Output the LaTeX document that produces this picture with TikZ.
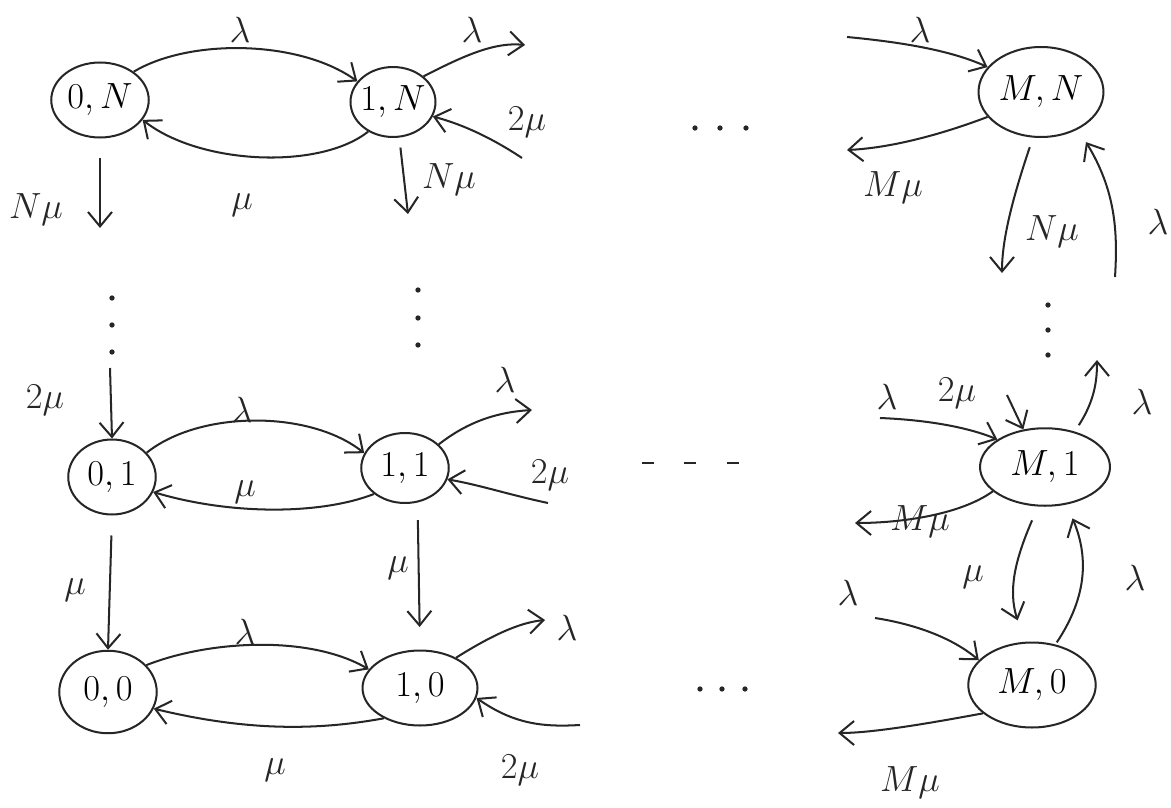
\documentclass[tikz,border=0pt]{standalone}
\usetikzlibrary{shapes.geometric,arrows.meta}
\begin{document}
\begin{tikzpicture}[x=0.02cm,y=-0.02cm,
  ink/.style={draw=black!85, line width=1.15pt},
  st/.style={ellipse, ink, inner xsep=-8pt, inner ysep=0pt, font=\huge},
  tr/.style={ink, -{Straight Barb[length=2.9mm,width=4.8mm]}},
  lab/.style={font=\huge, text=black!85},
  dotmark/.style={fill=black!85, circle, inner sep=0pt, minimum size=3pt}]
\useasboundingbox (0,0) rectangle (1171,808);
% states
\node[st, minimum width=1.95cm, minimum height=1.5cm] (a0N) at (100,100) {$0,N$};
\node[st, minimum width=1.7cm, minimum height=1.4cm] (a1N) at (393,102) {$1,N$};
\node[st, minimum width=2.5cm, minimum height=1.8cm] (aMN) at (1041,92) {$M,N$};
\node[st, minimum width=1.75cm, minimum height=1.5cm] (a01) at (112,477) {$0,1$};
\node[st, minimum width=1.75cm, minimum height=1.4cm] (a11) at (405,468) {$1,1$};
\node[st, minimum width=2.6cm, minimum height=1.55cm] (aM1) at (1045,467) {$M,1$};
\node[st, minimum width=1.95cm, minimum height=1.65cm] (a00) at (108,692) {$0,0$};
\node[st, minimum width=2.3cm, minimum height=1.5cm] (a10) at (420,688) {$1,0$};
\node[st, minimum width=2.55cm, minimum height=1.7cm] (aM0) at (1032,685) {$M,0$};
% free ends
\coordinate (c1Nr) at (525,45);
\coordinate (c1Nin) at (522,158);
\coordinate (c0Nd) at (100,228);
\coordinate (c1Nd) at (408,214);
\coordinate (cMNin) at (847,37);
\coordinate (cMNout) at (847,150);
\coordinate (cMNd) at (1002,273);
\coordinate (cMNu) at (1115,277);
\coordinate (c01in) at (110,368);
\coordinate (c11r) at (532,410);
\coordinate (c11in) at (548,503);
\coordinate (cM1in) at (880,418);
\coordinate (cM1top) at (1007,395);
\coordinate (cM1up) at (1097,360);
\coordinate (cM1out) at (855,523);
\coordinate (c10r) at (545,620);
\coordinate (c10in) at (580,725);
\coordinate (cM0in) at (875,618);
\coordinate (cM0out) at (838,733);
% top row
\draw[tr] (a0N.40) .. controls (190,38) and (300,40) .. (a1N.150);
\draw[tr] (a1N.-130) .. controls (320,170) and (200,165) .. (a0N.-25);
\draw[tr] (a1N.40) .. controls (465,55) and (495,42) .. (c1Nr);
\draw[tr] (c1Nin) .. controls (495,140) and (465,125) .. (a1N.-20);
\draw[tr, shorten <=0.4cm] (a0N.south) -- (c0Nd);
\draw[tr, shorten <=0.2cm] (a1N.-80) -- (c1Nd);
\draw[tr] (cMNin) .. controls (900,42) and (950,50) .. (aMN.155);
\draw[tr] (aMN.-155) .. controls (940,135) and (890,148) .. (cMNout);
\draw[tr, shorten <=0.2cm] (aMN.-100) .. controls (1012,200) and (1002,240) .. (cMNd);
\draw[tr, shorten >=0.3cm] (cMNu) .. controls (1118,230) and (1115,190) .. (aMN.-45);
% middle row
\draw[tr] (c01in) -- (a01.north);
\draw[tr] (a01.35) .. controls (200,410) and (310,410) .. (a11.160);
\draw[tr] (a11.-140) .. controls (320,515) and (230,515) .. (a01.-20);
\draw[tr] (a11.35) .. controls (470,420) and (500,412) .. (c11r);
\draw[tr] (c11in) .. controls (510,495) and (480,485) .. (a11.-15);
\draw[tr] (cM1in) .. controls (930,420) and (970,428) .. (aM1.150);
\draw[tr] (cM1top) -- (aM1.120);
\draw[tr, shorten <=0.15cm] (aM1.50) .. controls (1095,400) and (1097,380) .. (cM1up);
\draw[tr] (aM1.-155) .. controls (960,515) and (900,523) .. (cM1out);
% verticals to bottom row
\draw[tr, shorten <=0.4cm] (a01.south) -- (a00.north);
\draw[tr, shorten <=0.35cm, shorten >=0.45cm] (a11.-70) -- (a10.north);
\draw[tr, shorten <=0.3cm, shorten >=0.45cm] (aM1.-100) .. controls (1015,560) and (1008,590) .. (aM0.100);
\draw[tr, shorten <=0.05cm, shorten >=0.3cm] (aM0.60) .. controls (1085,600) and (1090,560) .. (aM1.-60);
% bottom row
\draw[tr] (a00.35) .. controls (210,640) and (310,635) .. (a10.160);
\draw[tr] (a10.-140) .. controls (320,730) and (250,732) .. (a00.-20);
\draw[tr] (a10.40) .. controls (500,630) and (525,622) .. (c10r);
\draw[tr] (c10in) .. controls (545,727) and (515,725) .. (a10.-10);
\draw[tr] (cM0in) .. controls (920,625) and (955,640) .. (aM0.155);
\draw[tr] (aM0.-150) .. controls (920,725) and (870,733) .. (cM0out);
% labels
\node[lab] (l1) at (240,30) {$\lambda$};
\node[lab] (l2) at (242,205) {$\mu$};
\node[lab] (l3) at (472,30) {$\lambda$};
\node[lab] (l4) at (527,122) {$2\mu$};
\node[lab] (l5) at (36,210) {$N\mu$};
\node[lab] (l6) at (449,180) {$N\mu$};
\node[lab] (l7) at (920,30) {$\lambda$};
\node[lab] (l8) at (893,188) {$M\mu$};
\node[lab] (l9) at (1052,232) {$N\mu$};
\node[lab] (l10) at (1158,222) {$\lambda$};
\node[lab] (l11) at (45,400) {$2\mu$};
\node[lab] (l12) at (242,410) {$\lambda$};
\node[lab] (l13) at (245,492) {$\mu$};
\node[lab] (l14) at (505,380) {$\lambda$};
\node[lab] (l15) at (550,475) {$2\mu$};
\node[lab] (l16) at (887,397) {$\lambda$};
\node[lab] (l17) at (957,393) {$2\mu$};
\node[lab] (l18) at (1142,402) {$\lambda$};
\node[lab] (l19) at (920,522) {$M\mu$};
\node[lab] (l20) at (75,590) {$\mu$};
\node[lab] (l21) at (398,568) {$\mu$};
\node[lab] (l22) at (245,632) {$\lambda$};
\node[lab] (l23) at (567,628) {$\lambda$};
\node[lab] (l24) at (275,770) {$\mu$};
\node[lab] (l25) at (520,770) {$2\mu$};
\node[lab] (l26) at (973,577) {$\mu$};
\node[lab] (l27) at (1135,578) {$\lambda$};
\node[lab] (l28) at (848,593) {$\lambda$};
\node[lab] (l29) at (910,783) {$M\mu$};
% ellipsis marks
\foreach \x in {695,720,746} \node[dotmark] at (\x,128) {};
\foreach \x in {700,722,745} \node[dotmark] at (\x,689) {};
\foreach \x in {648,690,733} \draw[ink] (\x-6,463) -- (\x+6,463);
\foreach \y in {298,325,352} \node[dotmark] at (112,\y) {};
\foreach \y in {290,318,345} \node[dotmark] at (418,\y) {};
\foreach \y in {305,330,355} \node[dotmark] at (1048,\y) {};
\end{tikzpicture}
\end{document}
